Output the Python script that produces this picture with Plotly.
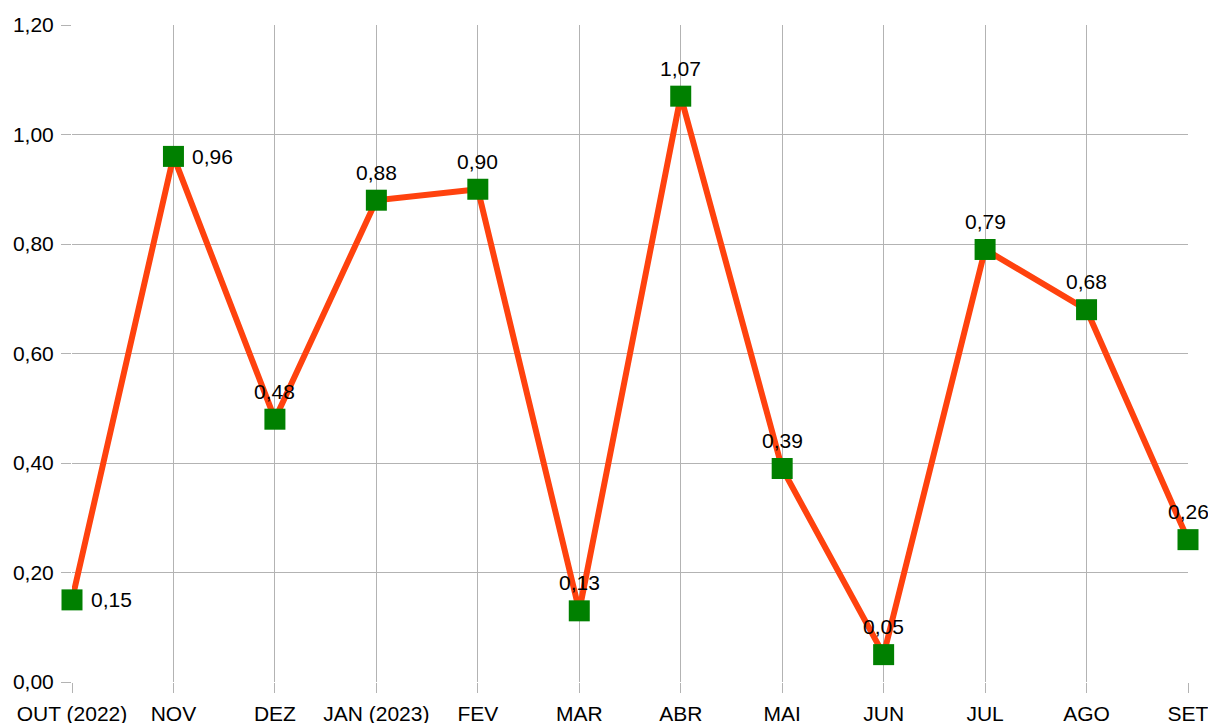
import plotly.graph_objects as go

months = ["OUT (2022)", "NOV", "DEZ", "JAN (2023)", "FEV", "MAR", "ABR",
          "MAI", "JUN", "JUL", "AGO", "SET"]
values = [0.15, 0.96, 0.48, 0.88, 0.90, 0.13, 1.07, 0.39, 0.05, 0.79, 0.68, 0.26]
label_side = ["right", "right", "top", "top", "top", "top", "top",
              "top", "top", "top", "top", "top"]
y_ticks = [0.0, 0.2, 0.4, 0.6, 0.8, 1.0, 1.2]

FONT = "Liberation Sans, Arial, sans-serif"

fig = go.Figure()
fig.add_trace(go.Scatter(
    x=months, y=values, mode="lines+markers",
    line=dict(color="#ff420e", width=6),
    marker=dict(symbol="square", size=21, color="#008000", line=dict(width=0)),
    cliponaxis=False, showlegend=False, hoverinfo="skip",
))

annotations = []
for m, v, side in zip(months, values, label_side):
    txt = f"{v:.2f}".replace(".", ",")
    if side == "right":
        annotations.append(dict(x=m, y=v, text=txt, showarrow=False,
                                xanchor="left", yanchor="middle", xshift=17,
                                font=dict(family=FONT, size=21, color="#000000")))
    else:
        annotations.append(dict(x=m, y=v, text=txt, showarrow=False,
                                xanchor="center", yanchor="middle", yshift=28,
                                font=dict(family=FONT, size=21, color="#000000")))

fig.update_layout(
    width=1208, height=723,
    margin=dict(l=72, r=20, t=25, b=41, pad=0, autoexpand=False),
    paper_bgcolor="white", plot_bgcolor="white",
    font=dict(family=FONT, size=21, color="#000000"),
    separators=",.",
    annotations=annotations,
    xaxis=dict(type="category", range=[0, len(months) - 1], automargin=False,
               showgrid=True, gridcolor="#b3b3b3", gridwidth=1,
               ticks="outside", ticklen=10, tickcolor="#b3b3b3",
               showline=False, zeroline=False, ticklabelstandoff=3,
               tickfont=dict(family=FONT, size=21, color="#000000")),
    yaxis=dict(range=[0, 1.2], tickvals=y_ticks, tickformat=".2f", automargin=False,
               showgrid=True, gridcolor="#b3b3b3", gridwidth=1,
               ticks="outside", ticklen=10, tickcolor="#b3b3b3",
               showline=False, zeroline=False, ticklabelstandoff=3,
               tickfont=dict(family=FONT, size=21, color="#000000")),
)

fig.write_html(
    "out.html",
    config={"displayModeBar": False, "staticPlot": True},
    post_script="document.body.style.margin='0';document.body.style.overflow='hidden';",
)
